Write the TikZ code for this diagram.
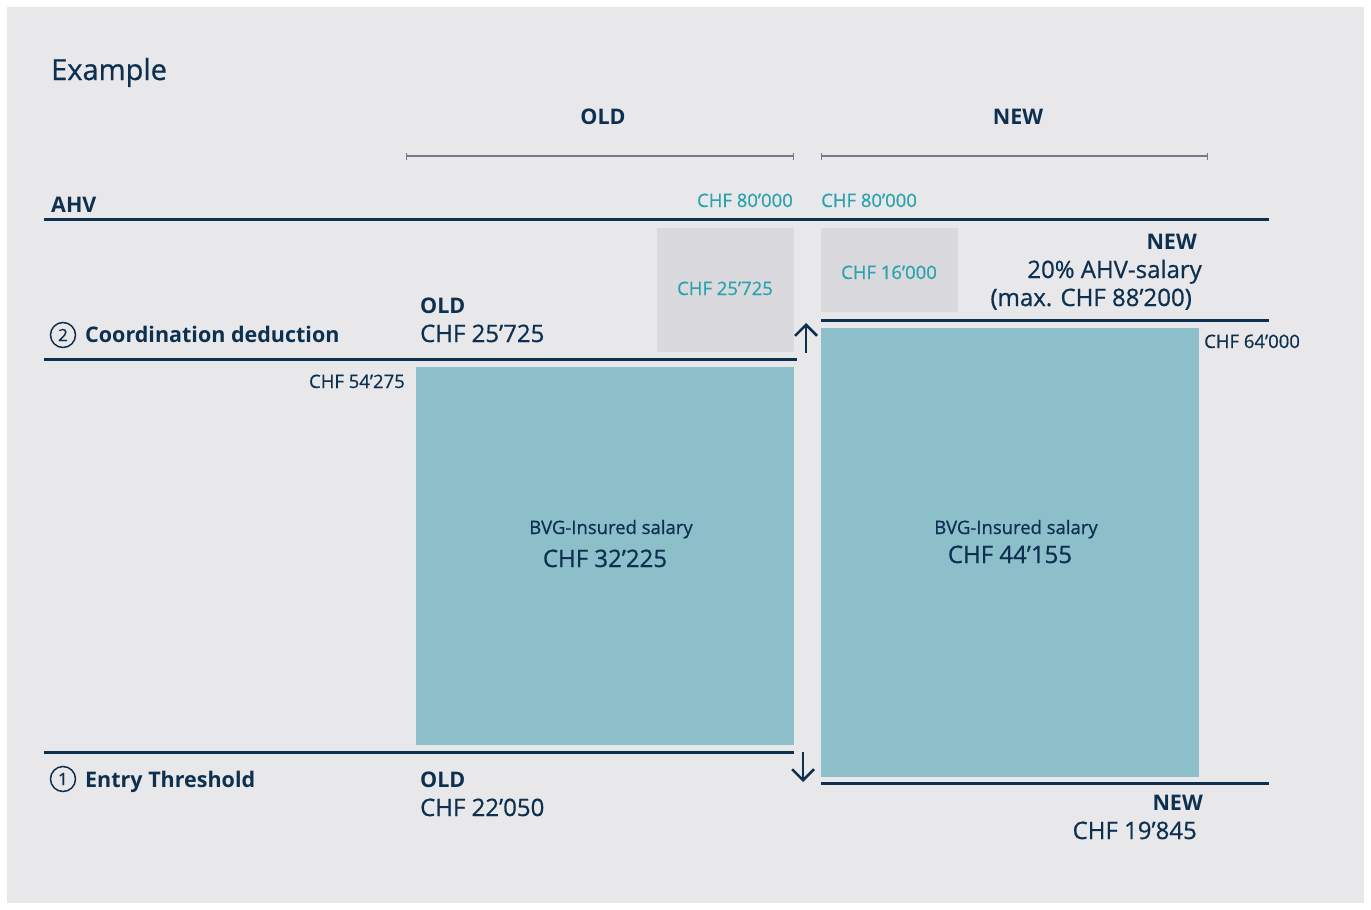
\documentclass[tikz,border=0pt]{standalone}
\usepackage{fontspec}
\setmainfont{Open Sans}[UprightFeatures={FakeBold=0.7}, BoldFeatures={FakeBold=0}]
\usetikzlibrary{arrows.meta}

\definecolor{navy}{HTML}{0D3050}
\definecolor{tealtxt}{HTML}{2BA3AE}
\definecolor{salary}{HTML}{8CBFCA}
\definecolor{deduct}{HTML}{D9D9DE}
\definecolor{paper}{HTML}{E8E8EA}
\definecolor{spanline}{HTML}{737A8C}

\tikzset{
  lbl/.style={inner sep=0pt, text=navy, font=\fontsize{24}{28}\selectfont},
  hd/.style={lbl, font=\bfseries\fontsize{21.5}{26}\selectfont},
  tag/.style={lbl, font=\fontsize{18.5}{22}\selectfont},
  tl/.style={inner sep=0pt, text=tealtxt, font=\fontsize{18.5}{22}\selectfont},
  level/.style={navy, line width=3pt},
  bracket/.style={spanline, line width=1.3pt, {Bar[width=7pt]}-{Bar[width=7pt]}},
  move/.style={navy, line width=2.5pt, -{Straight Barb[length=11pt, width=22pt]}},
  numc/.style={circle, draw=navy, line width=1.5pt, minimum size=25pt, inner sep=0pt,
    text=navy, font=\fontsize{17}{17}\selectfont},
}

\begin{document}
\begin{tikzpicture}[x=1pt, y=-1pt]
\useasboundingbox (0,0) rectangle (1371,910);
\fill[paper] (7,7) rectangle (1364,903);

% title
\node[lbl, anchor=base west, font=\fontsize{29}{32}\selectfont] (title) at (51,80) {Example};

% column heads
\node[hd, anchor=base] (oldhd) at (603,124) {OLD};
\node[hd, anchor=base] (newhd) at (1018,124) {NEW};
\draw[bracket] (406,156) -- (794,156);
\draw[bracket] (821,156) -- (1208,156);

% AHV
\node[hd, anchor=base west] (ahv) at (51,212) {AHV};
\node[tl, anchor=base east] (ahvold) at (793,207) {CHF 80’000};
\node[tl, anchor=base west] (ahvnew) at (821,207) {CHF 80’000};
\draw[level] (44,219) -- (1269,219);

% coordination deduction boxes
\fill[deduct] (657,228) rectangle (794,352);
\node[tl, anchor=base] (dedold) at (725,295) {CHF 25’725};
\fill[deduct] (821,228) rectangle (958,312);
\node[tl, anchor=base] (dednew) at (889,279) {CHF 16’000};

% (2) coordination deduction
\node[numc] (two) at (63,335) {2};
\node[hd, anchor=base west] (coord) at (85,342) {Coordination deduction};
\node[hd, anchor=base west] (cdold) at (420,313) {OLD};
\node[lbl, anchor=base west] (cdoldv) at (420,342) {CHF 25’725};
\node[hd, anchor=base east] (cdnew) at (1197,249) {NEW};
\node[lbl, anchor=base east] (cdnewa) at (1202,278) {20\% AHV-salary};
\node[lbl, anchor=base east] (cdnewb) at (1192,306) {(max. CHF 88’200)};
\draw[level] (44,359) -- (797,359);
\draw[level] (821,320) -- (1269,320);
\draw[move] (806,353) -- (806,323);

% insured salary
\fill[salary] (416,367) rectangle (794,745);
\node[tag, anchor=base east] (topold) at (405,388) {CHF 54’275};
\node[tag, anchor=base] (bvgold) at (611,534) {BVG-Insured salary};
\node[lbl, anchor=base] (sumold) at (605,567) {CHF 32’225};
\fill[salary] (821,328) rectangle (1199,777);
\node[tag, anchor=base west] (topnew) at (1204,348) {CHF 64’000};
\node[tag, anchor=base] (bvgnew) at (1016,534) {BVG-Insured salary};
\node[lbl, anchor=base] (sumnew) at (1010,563) {CHF 44’155};

% (1) entry threshold
\draw[level] (44,752) -- (794,752);
\draw[level] (821,783) -- (1269,783);
\draw[move] (803,752) -- (803,782);
\node[numc] (one) at (63,779) {1};
\node[hd, anchor=base west] (entry) at (85,787) {Entry Threshold};
\node[hd, anchor=base west] (etold) at (420,787) {OLD};
\node[lbl, anchor=base west] (etoldv) at (420,816) {CHF 22’050};
\node[hd, anchor=base east] (etnew) at (1203,810) {NEW};
\node[lbl, anchor=base east] (etnewv) at (1197,839) {CHF 19’845};

\end{tikzpicture}
\end{document}
